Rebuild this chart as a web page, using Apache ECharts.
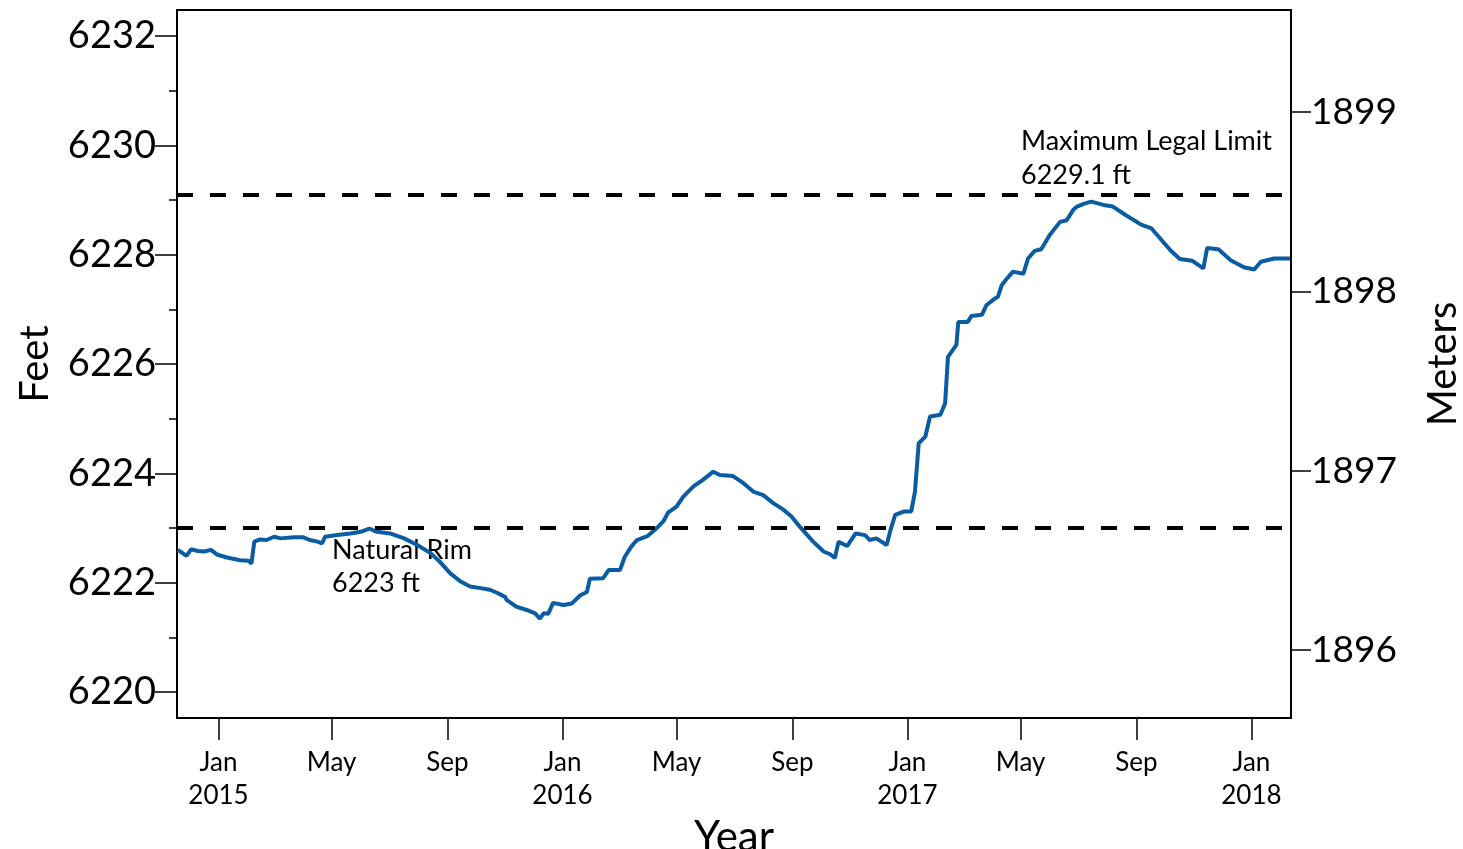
<!DOCTYPE html>
<html>
<head>
<meta charset="utf-8">
<script src="https://cdn.jsdelivr.net/npm/echarts@6/dist/echarts.min.js"></script>
<style>
html,body{margin:0;padding:0;background:#fff;}
#c{width:1463px;height:849px;}
</style>
</head>
<body>
<div id="c"></div>
<script>
// ---- data ----
const dates = [
'2014-11-19','2014-11-28','2014-12-03','2014-12-10','2014-12-17','2014-12-24','2014-12-31',
'2015-01-10','2015-01-24','2015-02-02','2015-02-05','2015-02-08','2015-02-14','2015-02-21',
'2015-03-01','2015-03-08','2015-03-22','2015-04-01','2015-04-08','2015-04-16','2015-04-21',
'2015-04-24','2015-05-07','2015-05-21','2015-06-01','2015-06-10','2015-06-18','2015-07-02',
'2015-07-17','2015-07-31','2015-08-14','2015-08-24','2015-09-04','2015-09-15','2015-09-25',
'2015-10-06','2015-10-16','2015-10-24','2015-11-01','2015-11-03','2015-11-13','2015-11-24',
'2015-12-03','2015-12-08','2015-12-12','2015-12-17','2015-12-22','2016-01-02','2016-01-11',
'2016-01-20','2016-01-27','2016-01-30','2016-02-13','2016-02-19','2016-03-02','2016-03-07',
'2016-03-14','2016-03-20','2016-03-31','2016-04-09','2016-04-17','2016-04-22','2016-05-01',
'2016-05-08','2016-05-19','2016-05-29','2016-06-09','2016-06-16','2016-06-30','2016-07-11',
'2016-07-22','2016-08-01','2016-08-12','2016-08-22','2016-08-31','2016-09-09','2016-09-23',
'2016-10-04','2016-10-11','2016-10-16','2016-10-20','2016-10-29','2016-11-07','2016-11-17',
'2016-11-22','2016-11-29','2016-12-10','2016-12-14','2016-12-19','2016-12-28','2017-01-05',
'2017-01-09','2017-01-13','2017-01-20','2017-01-25','2017-02-05','2017-02-10','2017-02-13',
'2017-02-22','2017-02-24','2017-03-06','2017-03-10','2017-03-21','2017-03-26','2017-04-04',
'2017-04-07','2017-04-11','2017-04-16','2017-04-23','2017-05-04','2017-05-09','2017-05-16',
'2017-05-23','2017-06-01','2017-06-12','2017-06-19','2017-06-26','2017-06-30','2017-07-07',
'2017-07-15','2017-07-28','2017-08-07','2017-08-20','2017-09-06','2017-09-17','2017-09-26',
'2017-10-07','2017-10-17','2017-10-30','2017-11-11','2017-11-15','2017-11-27','2017-12-10',
'2017-12-24','2018-01-04','2018-01-11','2018-01-25','2018-02-11'
];
const levelFt = [
6222.60,6222.49,6222.61,6222.58,6222.57,6222.60,6222.51,
6222.46,6222.41,6222.40,6222.35,6222.75,6222.79,6222.78,
6222.84,6222.81,6222.83,6222.83,6222.78,6222.75,6222.72,
6222.84,6222.87,6222.90,6222.93,6222.99,6222.93,6222.90,
6222.81,6222.69,6222.54,6222.38,6222.17,6222.02,6221.93,
6221.90,6221.87,6221.81,6221.74,6221.68,6221.56,6221.50,
6221.44,6221.34,6221.44,6221.43,6221.63,6221.59,6221.62,
6221.77,6221.83,6222.07,6222.08,6222.23,6222.23,6222.47,
6222.66,6222.78,6222.85,6222.98,6223.12,6223.28,6223.39,
6223.57,6223.76,6223.88,6224.03,6223.97,6223.95,6223.82,
6223.66,6223.60,6223.45,6223.34,6223.21,6223.02,6222.75,
6222.57,6222.52,6222.45,6222.75,6222.67,6222.90,6222.87,
6222.78,6222.81,6222.69,6222.96,6223.24,6223.30,6223.30,
6223.66,6224.55,6224.67,6225.04,6225.07,6225.28,6226.13,
6226.35,6226.77,6226.77,6226.88,6226.90,6227.08,6227.20,
6227.23,6227.44,6227.55,6227.69,6227.65,6227.93,6228.07,
6228.10,6228.36,6228.60,6228.63,6228.82,6228.88,6228.93,
6228.97,6228.91,6228.88,6228.73,6228.55,6228.48,6228.30,
6228.08,6227.92,6227.89,6227.75,6228.12,6228.10,6227.90,
6227.77,6227.73,6227.87,6227.93,6227.93
];
const feetTicks = [6220, 6222, 6224, 6226, 6228, 6230, 6232];
const feetMinorTicks = [6221, 6223, 6225, 6227, 6229, 6231];
const meterTicks = [1896, 1897, 1898, 1899];
const xTickDates = ['2015-01-01','2015-05-01','2015-09-01','2016-01-01','2016-05-01','2016-09-01',
                    '2017-01-01','2017-05-01','2017-09-01','2018-01-01'];
const monthNames = ['Jan','Feb','Mar','Apr','May','Jun','Jul','Aug','Sep','Oct','Nov','Dec'];
const naturalRim = 6223;
const legalLimit = 6229.1;
const xMin = '2014-11-18', xMax = '2018-02-12';
const ftMin = 6219.524, ftMax = 6232.476;
const mMin = 1895.621, mMax = 1899.569;

// ---- chart ----
const FONT = 'Lato';
function ts(s){ const p = s.split('-').map(Number); return new Date(p[0], p[1]-1, p[2]).getTime(); }
const xTicks = xTickDates.map(ts);
const plain = v => String(v);
const chart = echarts.init(document.getElementById('c'), null, {renderer:'canvas'});
const option = {
  animation: false,
  backgroundColor: '#fff',
  textStyle: {fontFamily: FONT, color: '#000'},
  grid: {left: 177, right: 172, top: 10, bottom: 131, show: true, borderColor: '#000', borderWidth: 2, outerBoundsMode: 'none'},
  xAxis: {
    type: 'value', min: ts(xMin), max: ts(xMax),
    name: 'Year', nameLocation: 'middle', nameGap: 85,
    nameTextStyle: {fontSize: 42, fontFamily: FONT, color: '#000'},
    axisLine: {show: true, lineStyle: {color: '#000', width: 2}},
    axisTick: {show: true, customValues: xTicks, length: 22, lineStyle: {color: '#000', width: 1.5}},
    axisLabel: {
      customValues: xTicks, margin: 28, fontSize: 26, fontFamily: FONT, color: '#000', lineHeight: 33,
      formatter: function(v){ const d = new Date(v); const m = monthNames[d.getMonth()]; return d.getMonth() === 0 ? m + '\n' + d.getFullYear() : m; }
    },
    splitLine: {show: false}
  },
  yAxis: [
    {
      type: 'value', position: 'left', min: ftMin, max: ftMax,
      name: 'Feet', nameLocation: 'middle', nameGap: 122, nameRotate: 90,
      nameTextStyle: {fontSize: 40, fontFamily: FONT, color: '#000'},
      axisLine: {show: true, lineStyle: {color: '#000', width: 2}},
      axisTick: {show: true, customValues: feetTicks, length: 22, lineStyle: {color: '#000', width: 1.5}},
      axisLabel: {customValues: feetTicks, margin: 21, fontSize: 38, fontFamily: FONT, color: '#000', formatter: plain},
      splitLine: {show: false}
    },
    {
      type: 'value', position: 'right', min: mMin, max: mMax,
      name: 'Meters', nameLocation: 'middle', nameGap: 132, nameRotate: 90,
      nameTextStyle: {fontSize: 40, fontFamily: FONT, color: '#000'},
      axisLine: {show: true, lineStyle: {color: '#000', width: 2}},
      axisTick: {show: true, customValues: meterTicks, length: 20, lineStyle: {color: '#000', width: 1.5}},
      axisLabel: {customValues: meterTicks, margin: 20, fontSize: 37, fontFamily: FONT, color: '#000', formatter: plain},
      splitLine: {show: false}
    },
    {
      type: 'value', position: 'left', min: ftMin, max: ftMax,
      axisLine: {show: false},
      axisTick: {show: true, customValues: feetMinorTicks, length: 8, lineStyle: {color: '#000', width: 1.5}},
      axisLabel: {show: false},
      splitLine: {show: false}
    }
  ],
  series: [{
    type: 'line', yAxisIndex: 0,
    data: dates.map((d, i) => [ts(d), levelFt[i]]),
    showSymbol: false, symbol: 'none',
    lineStyle: {color: '#0a5ca3', width: 4},
    z: 3,
    markLine: {
      silent: true, symbol: ['none','none'], animation: false,
      label: {show: false},
      lineStyle: {color: '#000', width: 4, type: [16, 17]},
      data: [{yAxis: legalLimit}, {yAxis: naturalRim}]
    }
  }],
  graphic: [
    {type: 'text', x: 1021, y: 141, style: {text: 'Maximum Legal Limit', font: '27px ' + FONT, fill: '#000', verticalAlign: 'middle'}},
    {type: 'text', x: 1021, y: 175, style: {text: legalLimit + ' ft', font: '27px ' + FONT, fill: '#000', verticalAlign: 'middle'}},
    {type: 'text', x: 332, y: 550, style: {text: 'Natural Rim', font: '27px ' + FONT, fill: '#000', verticalAlign: 'middle'}},
    {type: 'text', x: 332, y: 583, style: {text: naturalRim + ' ft', font: '27px ' + FONT, fill: '#000', verticalAlign: 'middle'}}
  ]
};
chart.setOption(option);
</script>
</body>
</html>
